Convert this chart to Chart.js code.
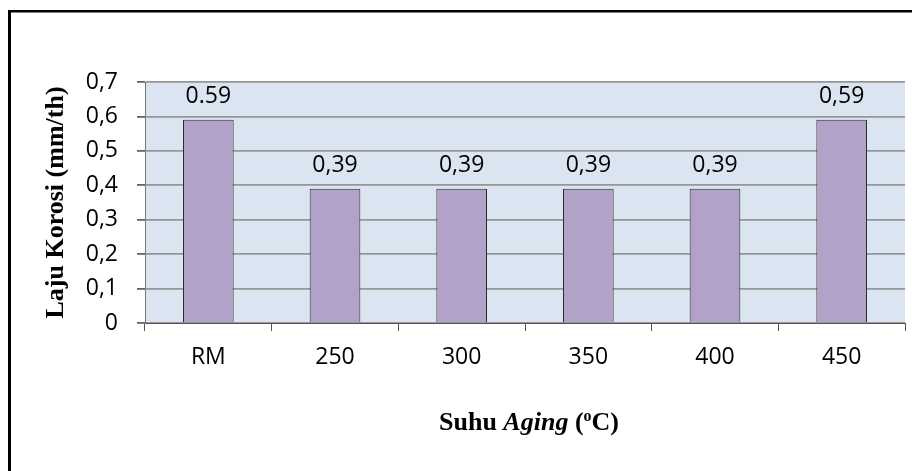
<!DOCTYPE html>
<html>
<head>
<meta charset="utf-8">
<script src="https://cdn.jsdelivr.net/npm/chart.js@4.4.1/dist/chart.umd.min.js"></script>
<style>
  html, body { margin: 0; padding: 0; background: #fff; }
  #wrap { width: 912px; height: 471px; }
</style>
</head>
<body>
<div id="wrap"><canvas id="chart" width="912" height="471"></canvas></div>
<script>
// data
const categories = ['RM', '250', '300', '350', '400', '450'];
const lajuKorosi = [0.59, 0.39, 0.39, 0.39, 0.39, 0.59];
const valueLabels = ['0.59', '0,39', '0,39', '0,39', '0,39', '0,59'];
const yTicks = [0, 0.1, 0.2, 0.3, 0.4, 0.5, 0.6, 0.7];

const yTitle = 'Laju Korosi (mm/th)';

// light blue plot background
const plotBackground = {
  id: 'plotBackground',
  beforeDraw(chart) {
    const { ctx, chartArea } = chart;
    ctx.save();
    ctx.fillStyle = '#dbe5f1';
    ctx.fillRect(chartArea.left, chartArea.top, chartArea.right - chartArea.left, chartArea.bottom - chartArea.top);
    ctx.restore();
  }
};

// frame, value labels above bars and the mixed-style x title
const extras = {
  id: 'extras',
  afterDraw(chart) {
    const { ctx, chartArea } = chart;
    ctx.save();
    ctx.fillStyle = '#000';
    ctx.fillRect(8, 10, 3, 461);
    ctx.fillRect(8, 10, 904, 2.5);

    // labels on bars
    const meta = chart.getDatasetMeta(0);
    ctx.font = '23px "Open Sans"';
    ctx.textAlign = 'center';
    ctx.textBaseline = 'middle';
    meta.data.forEach((bar, i) => {
      ctx.fillText(valueLabels[i], bar.x, bar.y - 23);
    });

    // x title: Suhu Aging (ºC)
    const parts = [
      { t: 'Suhu ', f: 'bold 26px "Liberation Serif"' },
      { t: 'Aging', f: 'italic bold 26px "Liberation Serif"' },
      { t: ' (', f: 'bold 26px "Liberation Serif"' },
      { t: 'o', f: 'bold 16px "Liberation Serif"', up: 9 },
      { t: 'C)', f: 'bold 26px "Liberation Serif"' }
    ];
    let total = 0;
    parts.forEach(p => { ctx.font = p.f; p.w = ctx.measureText(p.t).width; total += p.w; });
    let x = (chartArea.left + chartArea.right) / 2 - total / 2 + 4;
    const base = 430;
    ctx.textAlign = 'left';
    ctx.textBaseline = 'alphabetic';
    parts.forEach(p => {
      ctx.font = p.f;
      ctx.fillText(p.t, x, base - (p.up || 0));
      x += p.w;
    });
    ctx.restore();
  }
};

new Chart(document.getElementById('chart'), {
  type: 'bar',
  data: {
    labels: categories,
    datasets: [{
      data: lajuKorosi,
      backgroundColor: '#b3a2c7',
      borderColor: '#2b2b2b',
      borderWidth: 1,
      barPercentage: 0.4,
      categoryPercentage: 1.0
    }]
  },
  options: {
    responsive: false,
    animation: false,
    devicePixelRatio: 1,
    layout: { padding: { left: 0, right: 7, top: 82, bottom: 0 } },
    plugins: {
      legend: { display: false },
      tooltip: { enabled: false }
    },
    scales: {
      x: {
        afterFit(scale) { scale.height = 148; },
        grid: {
          offset: true,
          drawOnChartArea: false,
          tickLength: 8,
          color: '#555',
          lineWidth: 1
        },
        border: { color: '#555', width: 1 },
        ticks: {
          color: '#000',
          padding: 13,
          font: { family: '"Open Sans"', size: 23 }
        }
      },
      y: {
        min: 0,
        max: 0.7,
        afterFit(scale) { scale.width = 145; },
        afterBuildTicks(scale) { scale.ticks = yTicks.map(v => ({ value: v })); },
        grid: {
          color: '#969696',
          lineWidth: 1.8,
          tickColor: '#666',
          tickLength: 8
        },
        border: { color: '#777', width: 1 },
        ticks: {
          color: '#000',
          padding: 19,
          font: { family: '"Open Sans"', size: 23 },
          callback: v => String(Math.round(v * 10) / 10).replace('.', ',')
        },
        title: {
          display: true,
          text: yTitle,
          color: '#000',
          padding: { top: 41, bottom: 0 },
          font: { family: '"Liberation Serif"', size: 26, weight: 'bold' }
        }
      }
    }
  },
  plugins: [plotBackground, extras]
});
</script>
</body>
</html>
